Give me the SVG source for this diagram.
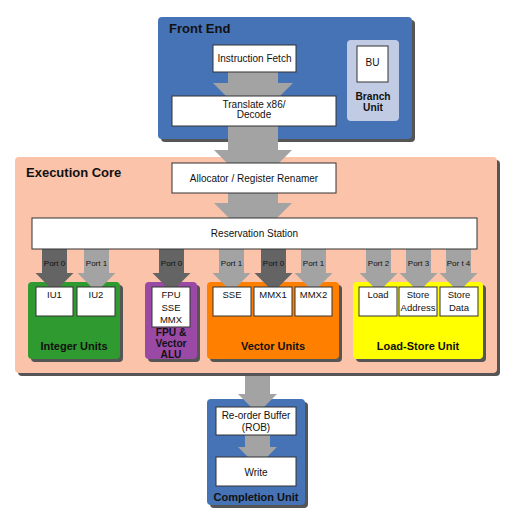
<svg xmlns="http://www.w3.org/2000/svg" width="510" height="520" viewBox="0 0 510 520">
<style>
.sh{fill:#555}
.box{fill:#fff;stroke:#333;stroke-width:1}
.t{font-family:"Liberation Sans",Arial,sans-serif;font-size:10px;fill:#111;text-anchor:middle}
.s{font-size:9.5px}
.p{font-family:"Liberation Sans",Arial,sans-serif;font-size:8px;fill:#111;text-anchor:middle}
.h{font-family:"Liberation Sans",Arial,sans-serif;font-weight:bold;font-size:13px;fill:#111}
.b{font-family:"Liberation Sans",Arial,sans-serif;font-weight:bold;font-size:11px;fill:#111;text-anchor:middle}
.c{font-size:10.2px}
.lg{fill:#a3a3a3}
.dk{fill:#646464}
</style>
<rect width="510" height="520" fill="#fff"/>

<g id="front-end">
<rect class="sh" x="161" y="20" width="254" height="122" rx="4"/>
<rect x="158" y="17" width="254" height="122" rx="4" fill="#4672b6"/>
<text class="h" x="169" y="33">Front End</text>
</g>
<g id="branch-unit">
<rect x="347" y="40" width="52" height="81" rx="4" fill="#c1cbe4"/>
<text class="b c" x="373" y="100">Branch</text>
<text class="b c" x="373" y="111">Unit</text>
</g>

<g id="execution-core">
<rect class="sh" x="18" y="160" width="482" height="216" rx="4"/>
<rect x="15" y="157" width="482" height="216" rx="4" fill="#fbc3a9"/>
<text class="h" x="26" y="177">Execution Core</text>
</g>

<g id="integer-units">
<rect class="sh" x="31" y="285" width="92" height="77" rx="4"/>
<rect x="28" y="282" width="92" height="77" rx="4" fill="#2f9a2f"/>
<text class="b" x="74" y="350">Integer Units</text>
</g>
<g id="fpu-vector-alu">
<rect class="sh" x="148" y="285" width="52" height="77" rx="4"/>
<rect x="145" y="282" width="52" height="77" rx="4" fill="#9a4aa5"/>
<text class="b c" x="171" y="336">FPU &amp;</text>
<text class="b c" x="171" y="347">Vector</text>
<text class="b c" x="171" y="358">ALU</text>
</g>
<g id="vector-units">
<rect class="sh" x="210" y="285" width="132" height="77" rx="4"/>
<rect x="207" y="282" width="132" height="77" rx="4" fill="#ff8000"/>
<text class="b" x="273" y="350">Vector Units</text>
</g>
<g id="load-store-unit">
<rect class="sh" x="356" y="285" width="130" height="77" rx="4"/>
<rect x="353" y="282" width="130" height="77" rx="4" fill="#ffff00"/>
<text class="b" x="418" y="350">Load-Store Unit</text>
</g>

<g id="completion-unit">
<rect class="sh" x="210" y="402" width="98" height="106" rx="4"/>
<rect x="207" y="399" width="98" height="106" rx="4" fill="#4672b6"/>
<text class="b" x="256" y="501">Completion Unit</text>
</g>

<g id="connectors">
<polygon class="lg" points="228,72 278,72 278,83 293,83 253,123 213,83 228,83"/>
<polygon class="lg" points="228,126 278,126 278,150 292,150 253,189 214,150 228,150"/>
<polygon class="lg" points="228,193 278,193 278,203 292,203 253,242 214,203 228,203"/>
<polygon class="dk" points="42,249 67,249 67,273 73.5,273 54.5,292 35.5,273 42,273"/>
<polygon class="lg" points="84,249 109,249 109,273 115.5,273 96.5,292 77.5,273 84,273"/>
<polygon class="dk" points="159,249 184,249 184,273 190.5,273 171.5,292 152.5,273 159,273"/>
<polygon class="lg" points="219,249 244,249 244,273 250.5,273 231.5,292 212.5,273 219,273"/>
<polygon class="dk" points="261,249 286,249 286,273 292.5,273 273.5,292 254.5,273 261,273"/>
<polygon class="lg" points="301,249 326,249 326,273 332.5,273 313.5,292 294.5,273 301,273"/>
<polygon class="lg" points="366,249 391,249 391,273 397.5,273 378.5,292 359.5,273 366,273"/>
<polygon class="lg" points="406,249 431,249 431,273 437.5,273 418.5,292 399.5,273 406,273"/>
<polygon class="lg" points="446,249 471,249 471,273 477.5,273 458.5,292 439.5,273 446,273"/>
<text class="p" x="54.5" y="266">Port 0</text>
<text class="p" x="96.5" y="266">Port 1</text>
<text class="p" x="171.5" y="266">Port 0</text>
<text class="p" x="231.5" y="266">Port 1</text>
<text class="p" x="273.5" y="266">Port 0</text>
<text class="p" x="313.5" y="266">Port 1</text>
<text class="p" x="378.5" y="266">Port 2</text>
<text class="p" x="418.5" y="266">Port 3</text>
<text class="p" x="458.5" y="266">Por t 4</text>
<polygon class="lg" points="245,376 270,376 270,394 277,394 257.5,413.5 238,394 245,394"/>
<polygon class="lg" points="245,435 270,435 270,447 277,447 257.5,466.5 238,447 245,447"/>
</g>

<g id="instruction-fetch"><rect class="box" x="213" y="45" width="83" height="27"/><text class="t" x="254.5" y="62">Instruction Fetch</text></g>
<g id="translate-decode"><rect class="box" x="172" y="96" width="164" height="30"/><text class="t" x="254" y="107.5">Translate x86/</text><text class="t" x="254" y="118">Decode</text></g>
<g id="bu"><rect class="box" x="357" y="46" width="31" height="36"/><text class="t" x="372.5" y="66">BU</text></g>
<g id="allocator"><rect class="box" x="172" y="163" width="164" height="30"/><text class="t" x="254" y="181.5">Allocator / Register Renamer</text></g>
<g id="reservation-station"><rect class="box" x="32" y="218" width="445" height="31"/><text class="t" x="254.5" y="237">Reservation Station</text></g>
<g id="iu1"><rect class="box" x="36" y="287" width="37" height="29"/><text class="t s" x="54.5" y="298">IU1</text></g>
<g id="iu2"><rect class="box" x="77" y="287" width="38" height="29"/><text class="t s" x="96" y="298">IU2</text></g>
<g id="fpu-sse-mmx"><rect class="box" x="152" y="287" width="38" height="40"/><text class="t s" x="171" y="298">FPU</text><text class="t s" x="171" y="310.5">SSE</text><text class="t s" x="171" y="322.5">MMX</text></g>
<g id="sse"><rect class="box" x="213" y="287" width="38" height="29"/><text class="t s" x="232" y="298">SSE</text></g>
<g id="mmx1"><rect class="box" x="254" y="287" width="38" height="29"/><text class="t s" x="273" y="298">MMX1</text></g>
<g id="mmx2"><rect class="box" x="295" y="287" width="37" height="29"/><text class="t s" x="313.5" y="298">MMX2</text></g>
<g id="load"><rect class="box" x="359" y="287" width="38" height="29"/><text class="t s" x="378" y="298">Load</text></g>
<g id="store-address"><rect class="box" x="399" y="287" width="38" height="29"/><text class="t s" x="418" y="298">Store</text><text class="t s" x="418" y="310.5">Address</text></g>
<g id="store-data"><rect class="box" x="440" y="287" width="38" height="29"/><text class="t s" x="459" y="298">Store</text><text class="t s" x="459" y="310.5">Data</text></g>
<g id="rob"><rect class="box" x="216" y="407" width="80" height="28"/><text class="t" x="256" y="418.5">Re-order Buffer</text><text class="t" x="256" y="430.5">(ROB)</text></g>
<g id="write"><rect class="box" x="216" y="457" width="80" height="29"/><text class="t" x="256" y="475.5">Write</text></g>
</svg>
